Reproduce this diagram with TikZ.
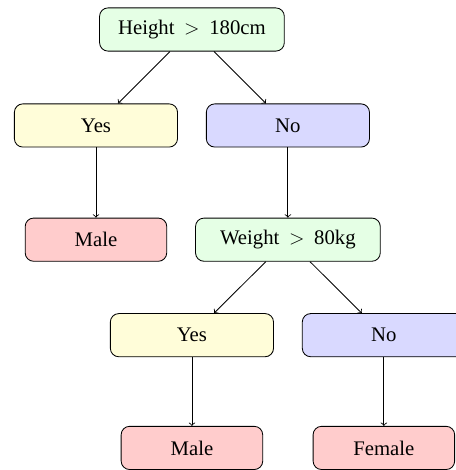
\documentclass[tikz,border=0pt]{standalone}
\usepackage{fontspec}
\setmainfont{Liberation Serif}
\usetikzlibrary{positioning}

\begin{document}
\begin{tikzpicture}[minimum height=0.9cm, line width=0.5pt,
    font=\fontsize{12.3}{14}\selectfont,
    base/.style={draw, rectangle, rounded corners=5pt},
    decision/.style={base, fill=green!10, minimum width=3.85cm},
    answer/.style={base, minimum width=3.4cm},
    leaf/.style={base, fill=red!20, minimum width=2.95cm}]
        \useasboundingbox (-4,0.615) rectangle (5.5,-9.18);

        \node[decision] (height) at (0,0) {Height $\:>\:$ 180cm};
        \node[answer, fill=yellow!15] (yes1) at (-2,-2) {Yes};
        \node[answer, fill=blue!15] (no1) at (2,-2) {No};
        \node[leaf] (male1) at (-2,-4.38) {Male};
        \node[decision] (weight) at (2,-4.38) {Weight $\:>\:$ 80kg};
        \node[answer, fill=yellow!15] (yes2) at (0,-6.37) {Yes};
        \node[answer, fill=blue!15] (no2) at (4,-6.37) {No};
        \node[leaf] (male2) at (0,-8.72) {Male};
        \node[leaf] (female) at (4,-8.72) {Female};

        \draw[->] (height) -- (yes1);
        \draw[->] (height) -- (no1);
        \draw[->] (yes1) -- (male1);
        \draw[->] (no1) -- (weight);
        \draw[->] (weight) -- (yes2);
        \draw[->] (weight) -- (no2);
        \draw[->] (yes2) -- (male2);
        \draw[->] (no2) -- (female);
    \end{tikzpicture}
\end{document}
